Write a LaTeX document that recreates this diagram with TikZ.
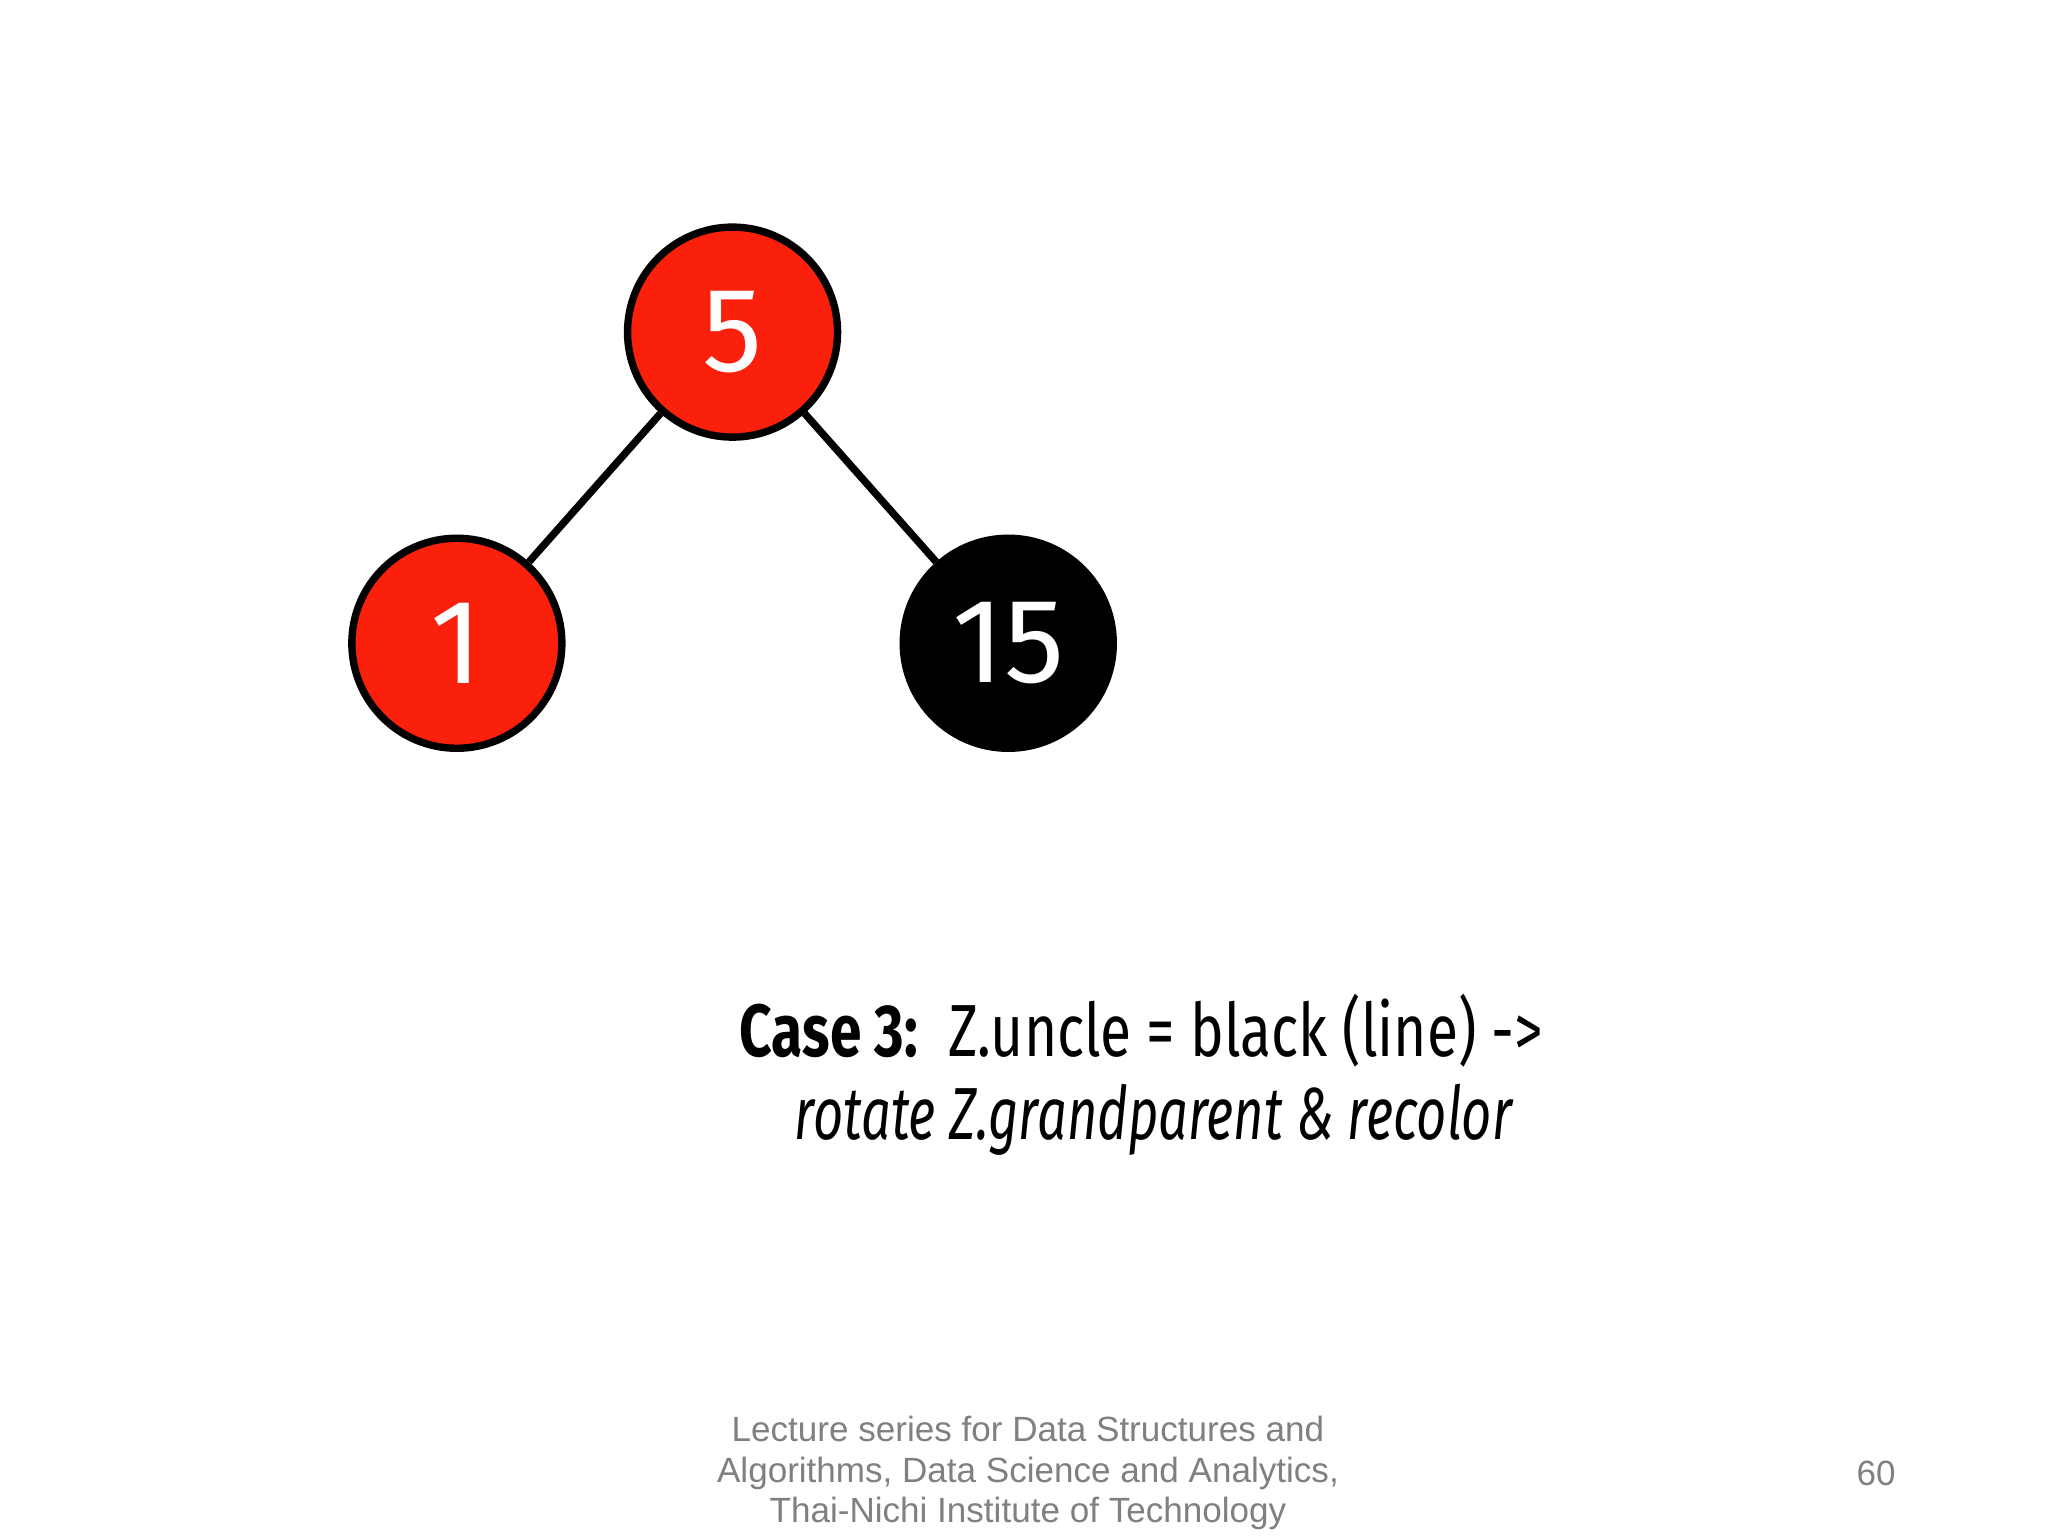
\documentclass[tikz,border=0pt]{standalone}
\usepackage{fontspec}
\setmainfont{Liberation Sans}
\newfontfamily\casefont{Fira Sans}
\usetikzlibrary{positioning}
\definecolor{rbred}{RGB}{250,32,12}
\begin{document}
\begin{tikzpicture}[
    rbnode/.style={circle, draw=black, line width=1.6pt, minimum size=1.6cm,
                   text=white, font=\casefont\fontsize{26}{26}\selectfont},
    rednode/.style={rbnode, fill=rbred},
    blacknode/.style={rbnode, fill=black},
    edge/.style={line width=1.6pt},
    foot/.style={text=gray, font=\fontsize{7.6}{8.8}\selectfont, align=center}
]
\useasboundingbox (0,0) rectangle (15.6,11.7);

% tree
\node[rednode] (n5) at (5.58,9.17) {5};
\node[rednode] (n1) at (3.48,6.80) {1};
\node[blacknode] (n15) at (7.68,6.80) {15};
\draw[edge] (n5) -- (n1);
\draw[edge] (n5) -- (n15);

% case text
\node[anchor=west, inner sep=0pt, font=\casefont\fontsize{16}{16}\selectfont, xscale=0.77, transform shape] (case) at (5.63,3.85)
    {\textbf{Case 3:}\ \ Z.uncle = black (line) -{}>};
\node[anchor=west, inner sep=0pt, font=\casefont\itshape\fontsize{16}{16}\selectfont, xscale=0.71, transform shape] (rot) at (6.05,3.17)
    {rotate Z.grandparent \& recolor};

% footer
\node[foot] (footer) at (7.83,0.48) {Lecture series for Data Structures and\\Algorithms, Data Science and Analytics,\\Thai-Nichi Institute of Technology};
\node[text=gray, font=\fontsize{7.6}{8.8}\selectfont] (page) at (14.29,0.48) {60};
\end{tikzpicture}
\end{document}
